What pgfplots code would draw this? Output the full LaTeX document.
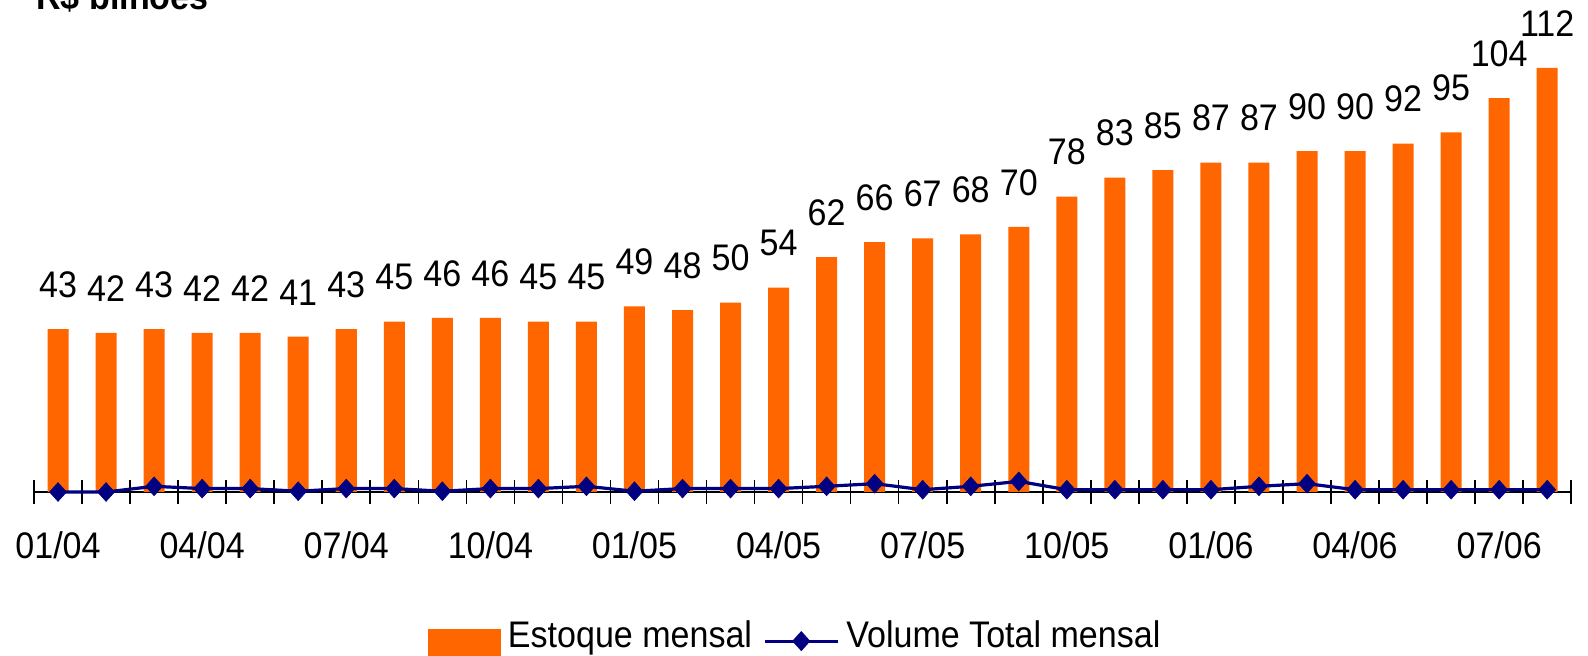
\documentclass[border=0pt]{standalone}
\usepackage{pgfplots}
\pgfplotsset{compat=1.18}
\usepackage{fontspec}
\setmainfont{Liberation Sans}[FakeStretch=0.92]
\definecolor{orangebar}{HTML}{FF6600}
\definecolor{navyline}{HTML}{000080}
\newcommand\chartfont{\fontsize{18.5}{21}\selectfont}
\begin{document}
\begin{tikzpicture}
\begin{axis}[
  at={(17pt,82pt)}, anchor=south west,
  width=768.6pt, height=227.2pt, scale only axis,
  xmin=0.5, xmax=32.5, ymin=0, ymax=120,
  axis y line=none, axis x line*=bottom,
  x axis line style={black, line width=1pt},
  xtick={1,4,...,31},
  xticklabels={01/04,04/04,07/04,10/04,01/05,04/05,07/05,10/05,01/06,04/06,07/06},
  minor xtick={0.5,1.5,...,32.5},
  major tick length=0pt, minor tick length=12pt, tick align=center,
  minor tick style={black, line width=0.8pt},
  xticklabel style={font=\chartfont, anchor=base, yshift=-33.5pt, inner sep=0pt},
  clip=false,
  /pgf/number format/assume math mode=true,
  legend columns=2,
  legend style={at={(0.2563,-0.283)}, anchor=north west, draw=none, fill=none,
    inner sep=0pt, outer sep=0pt, font=\chartfont,
    cells={anchor=base west}, nodes={inner sep=0pt, text depth=0pt},
    /tikz/every odd column/.append style={column sep=3.5pt},
    /tikz/every even column/.append style={column sep=5.6pt}},
]
\addplot[ybar, bar width=10.5pt, fill=orangebar, draw=none,
  nodes near coords,
  every node near coord/.append style={font=\chartfont, anchor=south, inner sep=0pt, yshift=15.5pt, text=black},
  legend image code/.code={\fill[orangebar] (0pt,-12pt) rectangle (36.5pt,9pt);}]
coordinates {
(1,43) (2,42) (3,43) (4,42) (5,42) (6,41) (7,43) (8,45) (9,46) (10,46) (11,45) (12,45)
(13,49) (14,48) (15,50) (16,54) (17,62) (18,66) (19,67) (20,68) (21,70) (22,78) (23,83) (24,85)
(25,87) (26,87) (27,90) (28,90) (29,92) (30,95) (31,104) (32,112)
};
\addlegendentry{Estoque mensal}
\addplot[color=navyline, line width=1.6pt, mark=diamond*, mark size=4.7pt,
  mark options={solid, xscale=1.2, fill=navyline, draw=navyline, line width=0.3pt},
  legend image code/.code={\draw[navyline, line width=1.5pt, mark=diamond*, mark size=4.8pt,
     mark options={solid, xscale=1.2, fill=navyline, draw=navyline, line width=0.3pt},
     mark repeat=2, mark phase=2] plot coordinates {(0pt,3.15pt) (18.25pt,3.15pt) (36.5pt,3.15pt)};}]
coordinates {
(1,0) (2,0) (3,1.5) (4,0.9) (5,0.9) (6,0.2) (7,0.9) (8,0.9) (9,0.2) (10,0.9) (11,0.9) (12,1.5)
(13,0.2) (14,0.9) (15,0.9) (16,0.9) (17,1.5) (18,2.2) (19,0.6) (20,1.5) (21,2.8) (22,0.6) (23,0.6) (24,0.6)
(25,0.6) (26,1.5) (27,2.2) (28,0.6) (29,0.6) (30,0.6) (31,0.6) (32,0.6)
};
\addlegendentry{Volume Total mensal}
\end{axis}
\node[anchor=base west, font=\bfseries\chartfont, inner sep=0pt] at (18pt,323pt) {R\$ bilhões};
\pgfresetboundingbox
\path[use as bounding box] (0,0) rectangle (794pt,328pt);
\end{tikzpicture}
\end{document}
